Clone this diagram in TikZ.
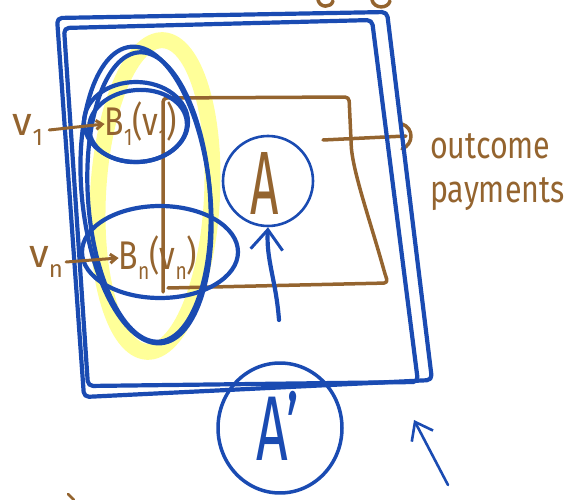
\documentclass[tikz,border=0pt]{standalone}
\usepackage{fontspec}
\setmainfont{Fira Sans}
\usetikzlibrary{shapes.geometric,arrows.meta}
\definecolor{pen}{HTML}{1A4BB2}
\definecolor{ink}{HTML}{94642F}
\definecolor{hl}{HTML}{FFFF99}
\newcommand{\lowsub}[1]{\raisebox{-0.25em}{\scalebox{0.6}{#1}}}
\begin{document}
\begin{tikzpicture}[x=1pt,y=-1pt,line cap=round,line join=round,
  penline/.style={draw=pen,line width=4.2pt},
  thinpen/.style={draw=pen,line width=2.6pt},
  inkline/.style={draw=ink,line width=3.5pt},
  oval/.style={ellipse,inner sep=0pt},
  barb/.style={-{Straight Barb[length=20pt,width=32pt,line width=3pt]}},
  smallbarb/.style={-{Straight Barb[length=6pt,width=9pt]}},
  inktext/.style={text=ink,inner sep=0pt}]
\useasboundingbox (0,0) rectangle (566,500);

% top brown remnants
\draw[inkline] (318,0) .. controls (320,8) and (331,8) .. (333,1);
\draw[inkline] (372,0) .. controls (374,9) and (388,9) .. (390,1);
\draw[ink,line width=2.5pt] (68,494) -- (74,500);

% yellow highlight
\node[draw=hl,line width=16pt,oval,minimum width=114pt,minimum height=312pt,rotate=-3] (hl) at (155,196) {};

% brown rectangle
\draw[inkline,rounded corners=4pt] (168,288) -- (388,283) -- (385,274) .. controls (370,220) and (352,170) .. (351,140) -- (349,97) -- (163,98) -- (163,292);
\coordinate (pr) at (323,140);
\coordinate (pe) at (406,136);
\draw[inkline] (pr) -- (pe);
\draw[inkline] (402,124) .. controls (414,128) and (414,144) .. (402,149);

% big blue square (double stroke)
\draw[penline,rounded corners=5pt] (57,18) -- (387,12) -- (432,380) -- (84,397) -- cycle;
\draw[penline,rounded corners=5pt] (64,28) -- (372,20) -- (418,382) -- (88,386) -- cycle;

% tall blue ellipse
\node[penline,oval,minimum width=128pt,minimum height=298pt,rotate=6] (tall) at (146,195) {};
\node[penline,oval,minimum width=122pt,minimum height=290pt,rotate=4] at (149,197) {};

% B1
\node[penline,oval,minimum width=104pt,minimum height=80pt] (B1e) at (136,122) {};
\node[penline,oval,minimum width=98pt,minimum height=72pt,rotate=5] at (138,126) {};
\node[inktext,font=\fontsize{40}{40}\selectfont,xscale=0.8] (B1) at (141,124) {B\lowsub{1}(v\lowsub{1})};
\node[inktext,font=\fontsize{40}{40}\selectfont] (v1) at (28,130) {v\lowsub{1}};
\draw[ink,line width=3pt,smallbarb] (v1.east) ++(6,0) -- (B1.west);

% Bn
\node[penline,oval,minimum width=156pt,minimum height=92pt] (Bne) at (160,252) {};
\node[inktext,font=\fontsize{40}{40}\selectfont,xscale=0.8] (Bn) at (158,258) {B\lowsub{n}(v\lowsub{n})};
\node[inktext,font=\fontsize{40}{40}\selectfont] (vn) at (46,262) {v\lowsub{n}};
\draw[ink,line width=3pt,smallbarb] (vn.east) ++(3,0) -- (Bn.west);

% A
\node[thinpen,circle,minimum size=90pt,inner sep=0pt] (A) at (268,181) {};
\node[inktext,font=\fontsize{90}{90}\selectfont,xscale=0.55] (At) at (265,183) {A};
\coordinate (atail) at (279,320);
\draw[penline,barb] (atail) .. controls (276,280) and (266,260) .. (A.south);

% outcome payments
\node[inktext,font=\fontsize{38}{44}\selectfont,align=left,anchor=west,xscale=0.8] (out) at (430,172) {outcome\\payments};

% A'
\node[draw=pen,line width=3.5pt,oval,minimum width=124pt,minimum height=130pt] (Ap) at (280,428) {};
\node[text=pen,inner sep=0pt,font=\fontsize{92}{92}\selectfont,xscale=0.6] (Apt) at (278,426) {A'};

% bottom-right arrow
\coordinate (brt) at (448,485);
\coordinate (brh) at (414,420);
\draw[thinpen,-{Straight Barb[length=16pt,width=24pt,line width=2.6pt]}] (brt) -- (brh);
\end{tikzpicture}
\end{document}
